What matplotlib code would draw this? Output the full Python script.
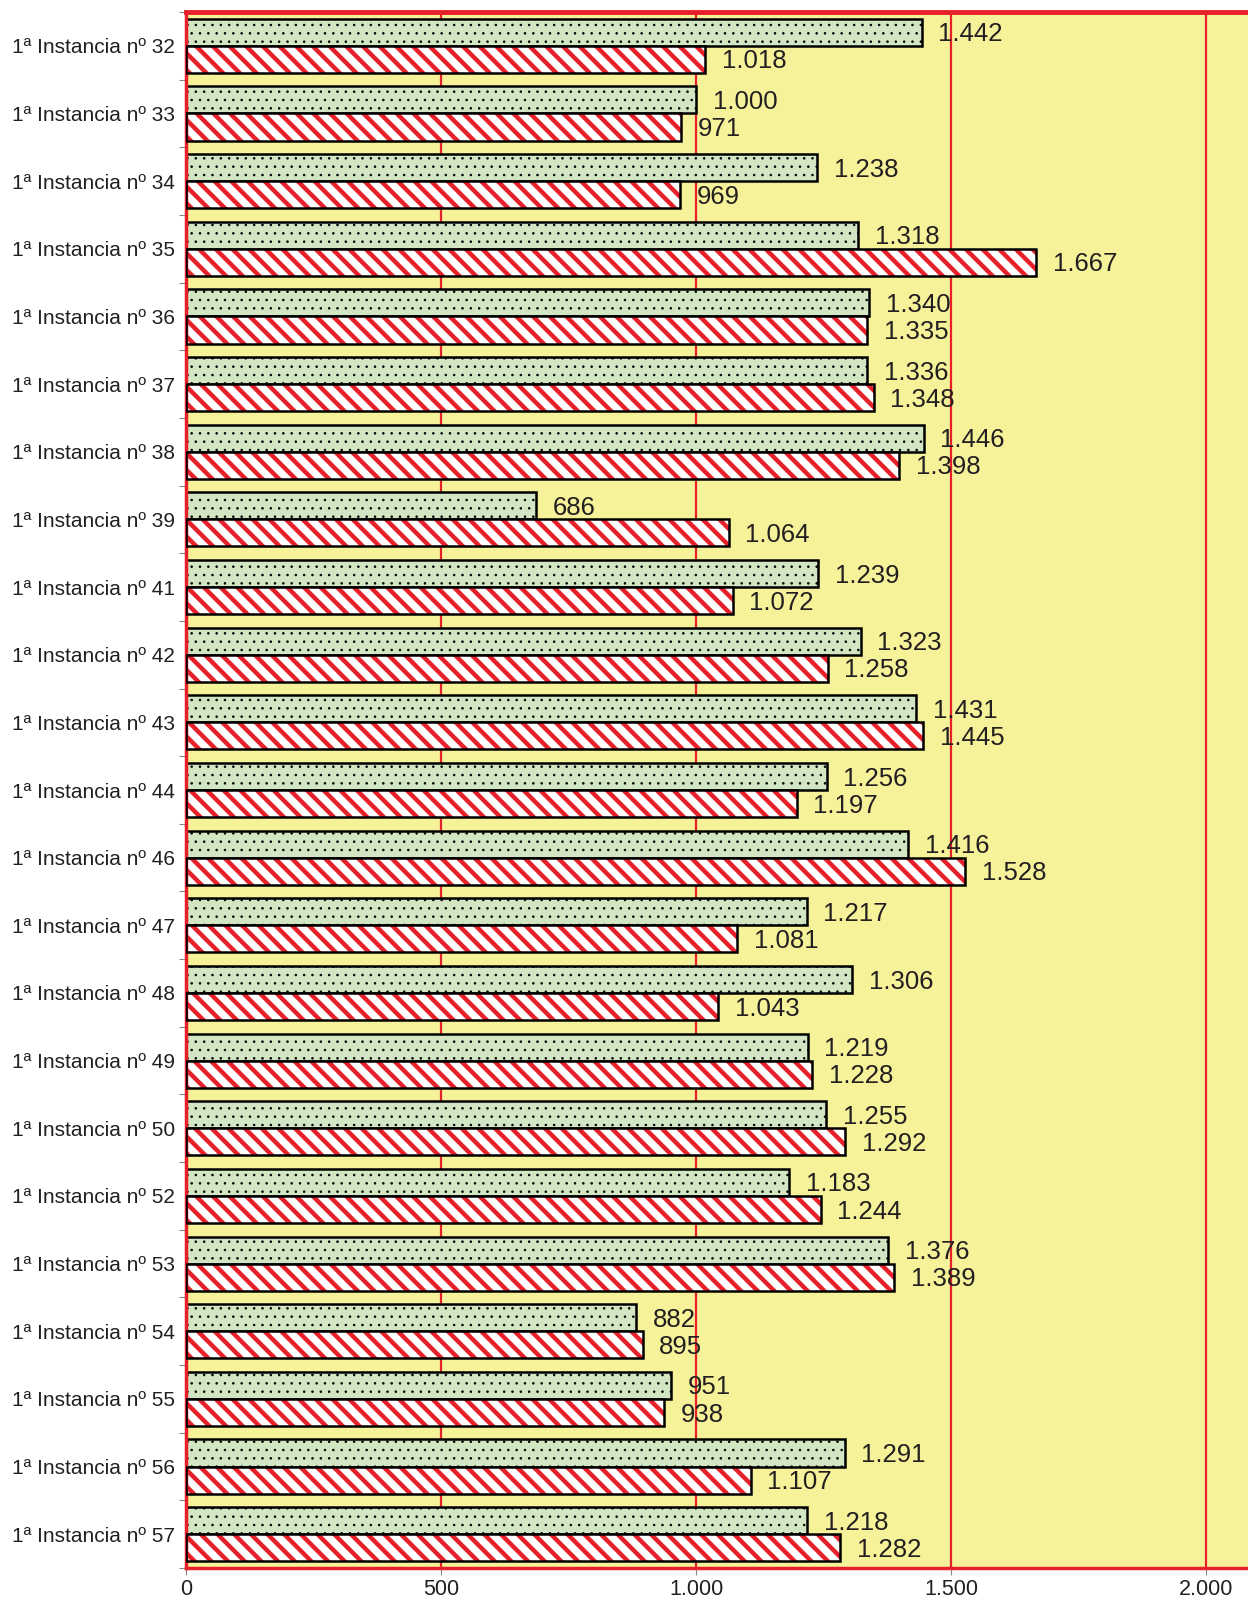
import matplotlib.pyplot as plt
import numpy as np

plt.rcParams['font.family'] = ['Liberation Sans', 'DejaVu Sans']

juzgados = ['32', '33', '34', '35', '36', '37', '38', '39', '41', '42', '43', '44',
            '46', '47', '48', '49', '50', '52', '53', '54', '55', '56', '57']
serie_a = [1442, 1000, 1238, 1318, 1340, 1336, 1446, 686, 1239, 1323, 1431, 1256,
           1416, 1217, 1306, 1219, 1255, 1183, 1376, 882, 951, 1291, 1218]
serie_b = [1018, 971, 969, 1667, 1335, 1348, 1398, 1064, 1072, 1258, 1445, 1197,
           1528, 1081, 1043, 1228, 1292, 1244, 1389, 895, 938, 1107, 1282]
etiquetas = ['1ª Instancia nº ' + j for j in juzgados]


def fmt(v):
    return f'{v:,}'.replace(',', '.')


def hatch_lw(bars, lw):
    for p in bars:
        if hasattr(p, 'set_hatch_linewidth'):
            p.set_hatch_linewidth(lw)


fig = plt.figure(figsize=(12.48, 16.01), dpi=100)
ax = fig.add_axes([0.149, 0.0206, 0.851, 0.9719])
ax.set_facecolor('#f6f29a')

y = np.arange(len(juzgados))
h = 0.4

# vertical red grid
for gx in [500, 1000, 1500, 2000]:
    ax.axvline(gx, color='#e8202a', lw=1.6, zorder=1)

with plt.rc_context({'hatch.linewidth': 0.6}):
    verdes = ax.barh(y - h / 2, serie_a, height=h, color='#d2e6c4', edgecolor='black',
                     hatch='..', linewidth=1.8, zorder=2)
    hatch_lw(verdes, 0.6)
with plt.rc_context({'hatch.linewidth': 3.2}):
    rojas = ax.barh(y + h / 2, serie_b, height=h, color='white', edgecolor='#e8202a',
                    hatch='\\\\', linewidth=0, zorder=2)
    hatch_lw(rojas, 3.2)
ax.barh(y + h / 2, serie_b, height=h, color='none', edgecolor='black',
        linewidth=1.8, zorder=3)

for yi, a, b in zip(y, serie_a, serie_b):
    ax.annotate(fmt(a), (a, yi - h / 2), xytext=(12, -1.5), textcoords='offset points',
                va='center', ha='left', fontsize=18.5, color='#231f20')
    ax.annotate(fmt(b), (b, yi + h / 2), xytext=(12, -1.5), textcoords='offset points',
                va='center', ha='left', fontsize=18.5, color='#231f20')

ax.set_xlim(0, 2082)
ax.set_ylim(len(juzgados) - 0.5, -0.5)

ax.set_xticks([0, 500, 1000, 1500, 2000])
ax.set_xticklabels(['0', '500', '1.000', '1.500', '2.000'], fontsize=15.5, color='#231f20')
ax.tick_params(axis='x', length=5, color='#888888', pad=3)

ax.set_yticks(np.arange(len(juzgados) + 1) - 0.5)
ax.set_yticklabels([])
ax.set_yticks(y, minor=True)
ax.set_yticklabels(etiquetas, minor=True, fontsize=15, color='#231f20')
ax.tick_params(axis='y', which='major', length=5, color='#888888')
ax.tick_params(axis='y', which='minor', length=0, pad=8)

for side in ['top', 'bottom', 'left']:
    ax.spines[side].set_color('#e8202a')
ax.spines['top'].set_linewidth(3.5)
ax.spines['bottom'].set_linewidth(2.5)
ax.spines['left'].set_linewidth(2.5)
ax.spines['right'].set_visible(False)

plt.savefig('out.png', dpi=100)
